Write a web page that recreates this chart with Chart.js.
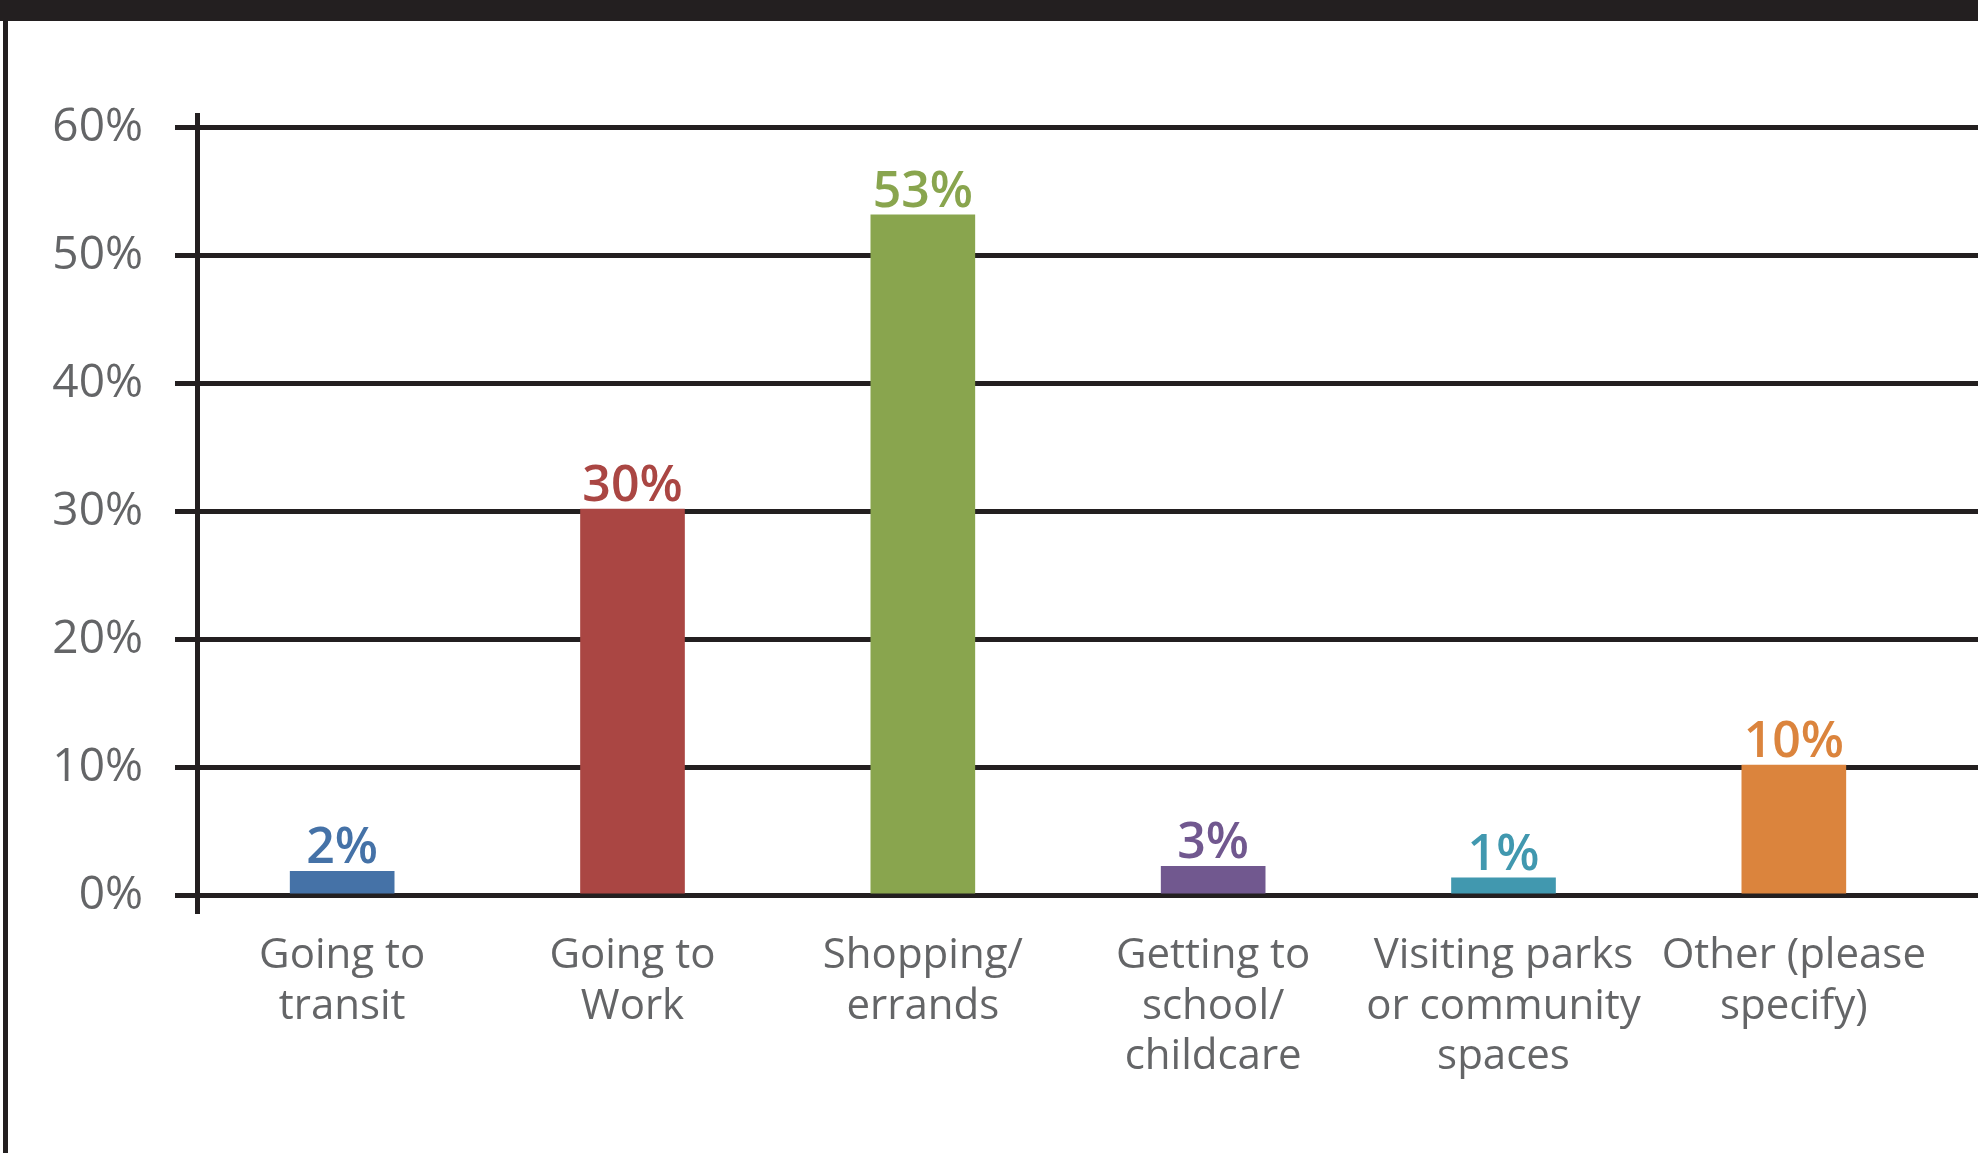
<!DOCTYPE html>
<html>
<head>
<meta charset="utf-8">
<script src="https://cdn.jsdelivr.net/npm/chart.js@4/dist/chart.umd.min.js"></script>
<style>
  html, body { margin: 0; padding: 0; background: #fff; }
  #frame {
    position: absolute; left: 0; top: 0;
    width: 1978px; height: 1153px;
    box-sizing: border-box;
    border-top: 21px solid #231f20;
  }
  #frame::before {
    content: ''; position: absolute; left: 3px; top: 0; bottom: 0;
    width: 5px; background: #231f20;
  }
  #wrap { position: absolute; left: 0; top: 0; width: 1978px; height: 1153px; }
</style>
</head>
<body>
<div id="frame"></div>
<div id="wrap"><canvas id="tripChart"></canvas></div>
<script>
// trip purposes (x categories, wrapped like the original)
const categories = [
    ['Going to', 'transit'],
    ['Going to', 'Work'],
    ['Shopping/', 'errands'],
    ['Getting to', 'school/', 'childcare'],
    ['Visiting parks', 'or community', 'spaces'],
    ['Other (please', 'specify)']
];
// bar heights (percent)
const shares = [1.9, 30.2, 53.2, 2.3, 1.4, 10.2];
// printed labels above the bars
const shareLabels = ['2%', '30%', '53%', '3%', '1%', '10%'];
const barColors = ['#4572a7', '#aa4643', '#89a54e', '#71588f', '#4198af', '#db843d'];
const yTicks = [0, 10, 20, 30, 40, 50, 60];

const lineColor = '#231f20';
const textGray = '#646567';
const gridWidth = 5;

// grid lines in the original run past the plot to the page edge
const extendGrid = {
    id: 'extendGrid',
    beforeDatasetsDraw(chart) {
        const ctx = chart.ctx, y = chart.scales.y, area = chart.chartArea;
        const dpr = chart.currentDevicePixelRatio || 1;
        const half = gridWidth / 2;
        ctx.save();
        ctx.strokeStyle = lineColor;
        ctx.lineWidth = gridWidth;
        yTicks.forEach(v => {
            // same pixel snapping chart.js uses for its own grid lines
            const py = Math.round((y.getPixelForValue(v) - half) * dpr) / dpr + half;
            ctx.beginPath();
            ctx.moveTo(area.right - 10, py);
            ctx.lineTo(chart.width, py);
            ctx.stroke();
        });
        ctx.restore();
    }
};

// value labels on top of each bar
const barLabels = {
    id: 'barLabels',
    afterDatasetsDraw(chart) {
        const ctx = chart.ctx;
        const meta = chart.getDatasetMeta(0);
        ctx.save();
        ctx.font = '600 50px "Open Sans"';
        ctx.textAlign = 'center';
        ctx.textBaseline = 'alphabetic';
        meta.data.forEach((bar, i) => {
            ctx.fillStyle = barColors[i];
            ctx.fillText(shareLabels[i], bar.x, bar.y - 8);
        });
        ctx.restore();
    }
};

const ctx = document.getElementById('tripChart').getContext('2d');
const tripChart = new Chart(ctx, {
    type: 'bar',
    data: {
        labels: categories,
        datasets: [{
            data: shares,
            backgroundColor: barColors,
            borderWidth: 0,
            barThickness: 104
        }]
    },
    options: {
        responsive: true,
        maintainAspectRatio: false,
        animation: false,
        layout: {
            padding: { left: 0, right: 39, top: 115, bottom: 42 }
        },
        plugins: {
            legend: { display: false },
            tooltip: { enabled: false }
        },
        scales: {
            x: {
                offset: true,
                grid: { display: false, drawTicks: false },
                border: { display: false },
                ticks: {
                    color: textGray,
                    padding: 20,
                    maxRotation: 0,
                    autoSkip: false,
                    font: { family: 'Open Sans', size: 42, lineHeight: 1.2 }
                },
                afterFit: scale => { scale.height = 200; }
            },
            y: {
                min: -1.2,
                max: 61,
                grid: {
                    color: lineColor,
                    lineWidth: gridWidth,
                    tickLength: 22,
                    drawTicks: true
                },
                border: { display: true, color: lineColor, width: gridWidth },
                ticks: {
                    stepSize: 10,
                    includeBounds: false,
                    color: textGray,
                    padding: 32,
                    font: { family: 'Open Sans', size: 46 },
                    callback: v => v + '%'
                },
                afterFit: scale => { scale.width = 197; }
            }
        }
    },
    plugins: [extendGrid, barLabels]
});
</script>
</body>
</html>
